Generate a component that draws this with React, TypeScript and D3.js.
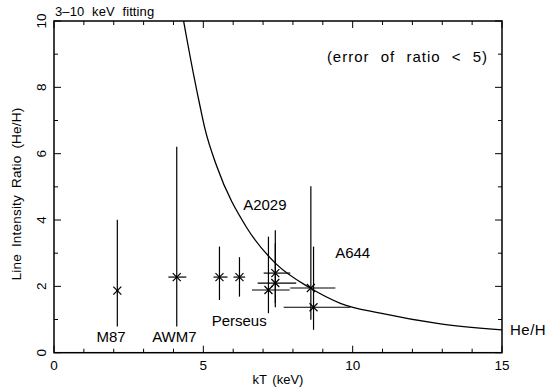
import React from "react";
import * as d3 from "d3";

// Cluster measurements
const clusterKT = [2.12, 4.11, 5.54, 6.21, 7.41, 7.41, 7.18, 8.6, 8.69];
const clusterKTLow = [2.08, 3.83, 5.34, 6.01, 7.02, 6.82, 6.63, 7.91, 7.69];
const clusterKTHigh = [2.16, 4.43, 5.81, 6.4, 7.91, 8.11, 7.89, 9.42, 9.92];
const clusterRatio = [1.87, 2.28, 2.28, 2.28, 2.4, 2.1, 1.89, 1.95, 1.37];
const clusterRatioLow = [0.79, 0.79, 1.59, 1.69, 1.37, 1.5, 1.19, 0.99, 0.69];
const clusterRatioHigh = [4.01, 6.21, 3.2, 2.88, 3.69, 3.3, 3.5, 5.02, 3.2];

// Theoretical He/H curve
const curveKT = [4.34, 4.45, 4.89, 5.06, 5.45, 6.46, 7.41, 8.58, 9.59, 10.93, 12.94, 15];
const curveRatio = [10, 9.45, 7.43, 6.73, 5.62, 3.76, 2.7, 1.95, 1.49, 1.19, 0.87, 0.69];

// Annotations
const labelText = ["M87", "AWM7", "Perseus", "A2029", "A644"];
const labelKT = [1.91, 4.03, 6.2, 7.06, 10.0];
const labelRatio = [0.32, 0.32, 0.82, 4.3, 2.84];

const xTicks = [0, 5, 10, 15];
const yTicks = [0, 2, 4, 6, 8, 10];
const xMinor = d3.range(0, 16, 1);
const yMinor = d3.range(0, 11, 1);

const W = 551;
const H = 391;
const L = 54, R = 502, T = 21, B = 352.7;
const FONT = "'Liberation Sans', Arial, Helvetica, sans-serif";

export default function App() {
  const x = d3.scaleLinear().domain([0, 15]).range([L, R]);
  const y = d3.scaleLinear().domain([0, 10]).range([B, T]);
  const line = d3
    .line<number>()
    .x((_, i) => x(curveKT[i]))
    .y((_, i) => y(curveRatio[i]))
    .curve(d3.curveMonotoneX);
  const ms = 4;
  return (
    <svg
      width={W}
      height={H}
      style={{ position: "absolute", left: 0, top: 0, background: "#fff" }}
      fontFamily={FONT}
    >
      <rect x={0} y={0} width={W} height={H} fill="#fff" />
      {xMinor.map((v) => {
        const major = v % 5 === 0;
        const len = major ? 7 : 4;
        return (
          <g key={"xm" + v} stroke="#000" strokeWidth={1}>
            <line x1={x(v)} x2={x(v)} y1={B} y2={B - len} />
            <line x1={x(v)} x2={x(v)} y1={T} y2={T + len} />
          </g>
        );
      })}
      {yMinor.map((v) => {
        const major = v % 2 === 0;
        const len = major ? 7 : 4;
        return (
          <g key={"ym" + v} stroke="#000" strokeWidth={1}>
            <line x1={L} x2={L + len} y1={y(v)} y2={y(v)} />
            <line x1={R} x2={R - len} y1={y(v)} y2={y(v)} />
          </g>
        );
      })}
      <rect x={L} y={T} width={R - L} height={B - T} fill="none" stroke="#000" strokeWidth={1.5} />
      {xTicks.map((v) => (
        <text key={"xt" + v} x={x(v)} y={369.5} textAnchor="middle" fontSize={13.5}>
          {v}
        </text>
      ))}
      {yTicks.map((v) => (
        <text
          key={"yt" + v}
          transform={`translate(45.5,${y(v)}) rotate(-90)`}
          textAnchor="middle"
          fontSize={13.5}
        >
          {v}
        </text>
      ))}
      <text x={278} y={384} textAnchor="middle" fontSize={13} wordSpacing={2}>
        kT (keV)
      </text>
      <text
        transform={`translate(21,194) rotate(-90)`}
        textAnchor="middle"
        fontSize={13.5}
        letterSpacing={0.2}
        wordSpacing={3}
      >
        Line Intensity Ratio (He/H)
      </text>
      <text x={55} y={15.5} fontSize={13} wordSpacing={4} letterSpacing={0.1}>
        3–10 keV fitting
      </text>
      <text x={488} y={62} textAnchor="end" fontSize={15} letterSpacing={1} wordSpacing={6}>
        (error of ratio &lt; 5)
      </text>
      <path d={line(curveKT) || ""} fill="none" stroke="#000" strokeWidth={1.3} />
      <text x={510} y={335} fontSize={15} letterSpacing={0.5}>
        He/H
      </text>
      {clusterKT.map((k, i) => {
        const cx = x(k);
        const cy = y(clusterRatio[i]);
        return (
          <g key={"p" + i} stroke="#000" strokeWidth={1.2}>
            <line x1={cx} x2={cx} y1={y(clusterRatioLow[i])} y2={y(clusterRatioHigh[i])} />
            <line x1={x(clusterKTLow[i])} x2={x(clusterKTHigh[i])} y1={cy} y2={cy} />
            <line x1={cx - ms} x2={cx + ms} y1={cy - ms} y2={cy + ms} />
            <line x1={cx - ms} x2={cx + ms} y1={cy + ms} y2={cy - ms} />
          </g>
        );
      })}
      {labelText.map((t, i) => (
        <text key={t} x={x(labelKT[i])} y={y(labelRatio[i])} textAnchor="middle" fontSize={15}>
          {t}
        </text>
      ))}
    </svg>
  );
}
